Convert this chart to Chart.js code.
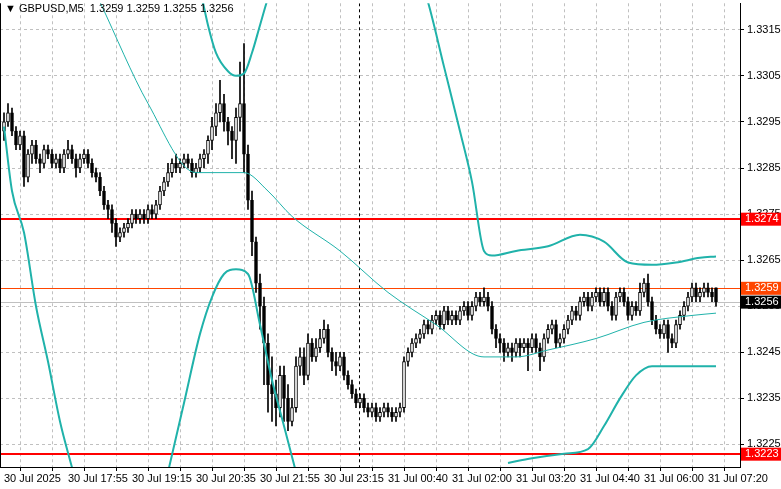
<!DOCTYPE html>
<html><head><meta charset="utf-8">
<script src="https://cdn.jsdelivr.net/npm/chart.js@4"></script>
<style>html,body{margin:0;padding:0;background:#fff}#w{width:781px;height:489px;position:relative}</style>
</head><body><div id="w"><canvas id="c"></canvas></div>
<script>
// prices in pips above BASE
const BASE = 1.32;
const openP = [93,95,97,93,90,92,83,88,90,87, 86,89,88,86,87,85,88,89,87,85, 87,88,86,84,83,80,77,76,73,70, 71,72,73,75,74,75,74,76,75,77,
 80,82,84,86,85,86,87,86,84,85, 87,88,91,94,97,99,95,93,91,96, 99,88,78,69,60,55,47,38,36,33, 40,35,30,33,42,44,40,47,44,46,
 48,50,45,43,42,44,40,38,36,34, 35,33,32,33,31,32,33,32,31,32, 33,43,45,47,48,49,51,50,52,53, 51,54,52,53,52,54,55,53,55,57,
 56,57,55,50,48,47,45,46,45,47, 46,47,46,48,46,44,48,50,51,47, 48,50,52,54,53,56,57,55,57,58, 56,58,55,53,57,58,56,53,55,54,
 58,60,56,52,50,49,51,48,47,51, 53,55,57,59,57,58,59,58,59];
const highP = [97,99,98,94,93,93,89,91,91,88, 90,90,89,88,88,89,91,90,88,88, 89,89,87,85,84,81,78,77,74,72, 73,74,76,76,76,76,77,77,78,81,
 83,86,87,88,87,88,88,87,86,88, 89,92,96,99,104,101,96,94,98,108, 112,90,80,70,62,57,49,44,39,42, 42,38,35,44,46,46,49,48,48,50,
 52,51,46,45,45,45,41,39,37,36, 36,34,34,34,33,34,34,33,33,34, 44,46,48,49,50,52,52,53,54,54, 55,55,54,54,55,56,56,56,58,58,
 59,58,56,51,49,48,47,47,48,48, 48,48,49,49,47,49,51,52,52,49, 51,53,55,55,57,58,58,58,59,59, 59,59,56,58,59,59,57,56,56,60,
 61,62,57,53,51,52,52,49,52,54, 56,58,60,60,59,60,60,59,59];
const lowP = [91,94,92,89,89,81,82,86,86,84, 85,87,85,85,84,84,87,86,83,84, 86,85,83,82,79,76,74,71,68,69, 70,71,72,73,73,73,73,74,74,76,
 79,81,83,84,84,85,85,83,83,84, 85,86,89,92,95,93,90,87,86,93, 84,76,66,58,50,38,32,30,29,31, 30,28,29,32,40,38,39,43,43,45,
 47,44,41,40,41,39,37,35,33,33, 32,31,31,30,30,31,31,30,30,31, 32,42,44,46,47,48,49,49,51,50, 50,51,51,51,51,53,52,52,54,55,
 55,54,49,46,45,43,44,43,44,44, 45,41,45,45,41,43,47,49,46,46, 47,49,51,52,52,55,54,54,56,55, 55,54,52,52,56,55,52,52,53,53,
 57,55,51,49,48,48,45,46,46,50, 52,54,56,56,56,57,57,56,55];
const closeP = [95,97,93,90,92,83,88,90,87,86, 89,88,86,87,85,88,89,87,85,87, 88,86,84,83,80,77,76,73,70,71, 72,73,75,74,75,74,76,75,77,80,
 82,84,86,85,86,87,86,84,85,87, 88,91,94,97,99,95,93,91,96,99, 88,78,69,60,55,47,38,36,33,40, 35,30,33,42,44,40,47,44,46,48,
 50,45,43,42,44,40,38,36,34,35, 33,32,33,31,32,33,32,31,32,33, 43,45,47,48,49,51,50,52,53,51, 54,52,53,52,54,55,53,55,57,56,
 57,55,50,48,47,45,46,45,47,46, 47,46,48,46,44,48,50,51,47,48, 50,52,54,53,56,57,55,57,58,56, 58,55,53,57,58,56,53,55,54,58,
 60,56,52,50,49,51,48,47,51,53, 55,57,59,57,58,59,58,57,56];
// Bollinger bands read at sparse bars: [barIndex, pips]
const bandMid = [[18,132],[24,121],[36,99],[48,84],[60,84],[66,80],[72,74.5],[84,67],[96,58],[108,51],[120,44],[128,44],[136,45.5],[148,48],[160,51.5],[172,53],[178,53.5]];
const bandUp1 = [[49,124],[51,116],[53,110],[56,106],[58,105],[60,105.5],[62,110],[64,116],[66,122]];
const bandUp2 = [[104,126],[106,121],[110,107],[114,93],[117,82],[120,67],[122,66],[128,67],[136,68],[144,70.5],[150,69],[156,64.5],[162,64],[168,64.5],[174,65.5],[178,65.8]];
const bandLo1 = [[0,94],[2,80],[5,71],[8,55],[11,43],[14,30],[17,20]];
const bandLo2 = [[41,19],[45,34],[49,49],[52,57],[55,62],[58,63],[61,62],[64,51],[67,39],[70,29],[73,19]];
const bandLo3 = [[126,21],[132,22],[140,23],[146,24],[150,29],[154,35],[158,40],[162,42],[170,42],[178,42]];
const timeLabels = {0:'30 Jul 2025',16:'30 Jul 17:55',32:'30 Jul 19:15',48:'30 Jul 20:35',64:'30 Jul 21:55',80:'30 Jul 23:15',96:'31 Jul 00:40',112:'31 Jul 02:00',128:'31 Jul 03:20',144:'31 Jul 04:40',160:'31 Jul 06:00',176:'31 Jul 07:20'};
const priceTicks = [1.3225,1.3235,1.3245,1.3255,1.3265,1.3275,1.3285,1.3295,1.3305,1.3315];
const levels = [{v:1.3274,c:'#ff0000',w:2,box:'#ff0000',tc:'#fff'},{v:1.3223,c:'#ff0000',w:2,box:'#ff0000',tc:'#fff'},{v:1.3259,c:'#ff4500',w:1,box:'#ff4500',tc:'#fff'},{v:1.3256,c:'#c0c0c0',w:1,box:'#000',tc:'#fff'}];
const title = '\u25BC GBPUSD,M5  1.3259 1.3259 1.3255 1.3256';

const FONT = '"Liberation Sans"';
const px = v => +(BASE + v/10000).toFixed(5);
const wicks = lowP.map((l,i)=>({x:i,y:[px(l),px(highP[i])]}));
const bodies = openP.map((o,i)=>{let a=px(o),b=px(closeP[i]); if(a===b) b=a+0.00002; return {x:i,y:[a,b]};});
const bodyCol = openP.map((o,i)=> closeP[i]>=o ? '#ffffff' : '#000000');
const pts = arr => arr.map(([i,v])=>({x:i,y:px(v)}));
const bandDs = (arr,w) => ({type:'line',data:pts(arr),borderColor:'#20b2aa',borderWidth:w,pointRadius:0,cubicInterpolationMode:'monotone',order:0});

const overlay = {
  id:'overlay',
  beforeDatasetsDraw(ch){
    const {ctx,chartArea:a,scales:{x,y}} = ch;
    ctx.save();
    ctx.beginPath();ctx.rect(a.left,a.top,a.right-a.left,a.bottom-a.top);ctx.clip();
    levels.forEach(l=>{const yy=Math.round(y.getPixelForValue(l.v))+(l.w===1?0.5:0);ctx.strokeStyle=l.c;ctx.lineWidth=l.w;ctx.beginPath();ctx.moveTo(a.left,yy);ctx.lineTo(a.right,yy);ctx.stroke();});
    const sx=Math.round(x.getPixelForValue(88.75))+0.5;
    ctx.setLineDash([3,3]);ctx.strokeStyle='#000';ctx.lineWidth=1;ctx.beginPath();ctx.moveTo(sx,a.top);ctx.lineTo(sx,a.bottom);ctx.stroke();
    ctx.restore();
  },
  afterDraw(ch){
    const {ctx,chartArea:a,scales:{y}} = ch;
    ctx.save();
    ctx.strokeStyle='#000';ctx.lineWidth=1;ctx.beginPath();ctx.moveTo(a.left+0.5,a.top);ctx.lineTo(a.left+0.5,a.bottom);ctx.stroke();
    ctx.font='11px '+FONT;ctx.textBaseline='middle';
    levels.forEach(l=>{const yy=y.getPixelForValue(l.v);ctx.fillStyle=l.box;ctx.fillRect(a.right+1,yy-6,40,13);ctx.fillStyle=l.tc;ctx.fillText(l.v.toFixed(4),a.right+5,yy+0.5);});
    ctx.fillStyle='#000';ctx.textBaseline='top';ctx.font='11px '+FONT;ctx.fillText(title,a.left+5,3);
    ctx.restore();
  }
};

new Chart(document.getElementById('c'),{
  type:'bar',
  data:{datasets:[
    {data:wicks,backgroundColor:'#000',barThickness:1,grouped:false,order:2},
    {data:bodies,backgroundColor:bodyCol,borderColor:'#000',borderWidth:1,borderSkipped:false,barThickness:3,grouped:false,order:1},
    bandDs(bandMid,1),bandDs(bandUp1,2),bandDs(bandUp2,2),bandDs(bandLo1,2),bandDs(bandLo2,2),bandDs(bandLo3,2)
  ]},
  options:{
    responsive:true,maintainAspectRatio:false,animation:false,devicePixelRatio:1,
    layout:{padding:0},
    plugins:{legend:{display:false},tooltip:{enabled:false}},
    scales:{
      x:{type:'linear',min:-1,max:184,offset:false,
        afterBuildTicks(s){s.ticks=[];for(let i=0;i<=176;i+=8)s.ticks.push({value:i});},
        grid:{color:'#c0c0c0',tickLength:4,tickColor:'#000',drawTicks:true},
        border:{color:'#000',dash:[3,3]},
        ticks:{autoSkip:false,maxRotation:0,align:'start',padding:1,color:'#000',font:{family:'Liberation Sans',size:11},
          callback:(v)=>timeLabels[v]||''},
        afterFit(s){s.height=22;}
      },
      y:{position:'right',min:1.322011,max:1.332075,
        afterBuildTicks(s){s.ticks=priceTicks.map(v=>({value:v}));},
        grid:{color:'#c0c0c0',tickLength:4,tickColor:'#000'},
        border:{color:'#000',dash:[3,3]},
        ticks:{color:'#000',padding:3,font:{family:'Liberation Sans',size:11,lineHeight:0.05},callback:v=>v.toFixed(4)},
        afterFit(s){s.width=41;}
      }
    }
  },
  plugins:[overlay]
});
</script></body></html>
